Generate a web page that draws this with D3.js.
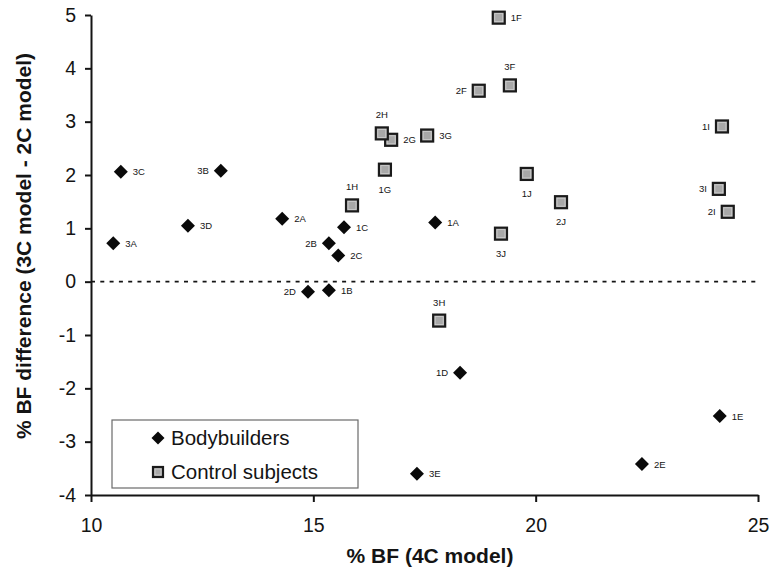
<!DOCTYPE html>
<html>
<head>
<meta charset="utf-8">
<script src="https://cdn.jsdelivr.net/npm/d3@7"></script>
<style>
  html, body { margin: 0; padding: 0; background: #fff; }
  svg { display: block; font-family: "Liberation Sans", Arial, Helvetica, sans-serif; }
</style>
</head>
<body>
<svg id="chart" width="771" height="572"></svg>
<script>
// ---- data ----
const xTicks = [10, 15, 20, 25];
const yTicks = [-4, -3, -2, -1, 0, 1, 2, 3, 4, 5];

const bbLabels = ["3A","3C","3B","3D","2A","1C","2B","2C","1A","2D","1B","1D","3E","2E","1E"];
const bbX = [10.50, 10.67, 12.92, 12.18, 14.30, 15.69, 15.35, 15.56, 17.74, 14.88, 15.35, 18.30, 17.33, 22.39, 24.14];
const bbY = [0.72, 2.06, 2.08, 1.05, 1.18, 1.02, 0.72, 0.49, 1.11, -0.19, -0.16, -1.71, -3.60, -3.42, -2.52];
const bbLabelSide = ["r","r","l","r","r","r","l","r","r","l","r","l","r","r","r"];

const ctLabels = ["1F","3F","2F","2G","2H","3G","1G","1H","3J","1J","2J","1I","3I","2I","3H"];
const ctX = [19.17, 19.42, 18.72, 16.75, 16.54, 17.56, 16.61, 15.87, 19.22, 19.80, 20.57, 24.19, 24.12, 24.32, 17.83];
const ctY = [4.95, 3.68, 3.58, 2.66, 2.78, 2.74, 2.10, 1.43, 0.90, 2.02, 1.49, 2.91, 1.74, 1.31, -0.73];
const ctLabelSide = ["r","t","l","r","t","r","b","t","b","b","b","l","l","l","t"];

const seriesNames = ["Bodybuilders", "Control subjects"];
const xTitle = "% BF (4C model)";
const yTitle = "% BF difference (3C model - 2C model)";

// ---- drawing ----
const svg = d3.select("#chart");
const x = d3.scaleLinear().domain([10, 25]).range([91, 758]);
const y = d3.scaleLinear().domain([-4, 5]).range([495, 15]);

const ink = "#141414";
const fmt = d => String(d);

// zero reference line
svg.append("line")
  .attr("x1", x(10)).attr("x2", x(25))
  .attr("y1", y(0)).attr("y2", y(0))
  .attr("stroke", ink).attr("stroke-width", 1.6)
  .attr("stroke-dasharray", "4,5.3");

// axes
const xAxis = svg.append("g")
  .attr("transform", `translate(0,${y(-4)})`)
  .call(d3.axisBottom(x).tickValues(xTicks).tickSize(7).tickSizeOuter(0).tickPadding(16).tickFormat(fmt));
const yAxis = svg.append("g")
  .attr("transform", `translate(${x(10)},0)`)
  .call(d3.axisLeft(y).tickValues(yTicks).tickSize(6).tickSizeOuter(0).tickPadding(9).tickFormat(fmt));

[xAxis, yAxis].forEach(g => {
  g.select(".domain").attr("stroke", ink).attr("stroke-width", 2);
  g.selectAll(".tick line").attr("stroke", ink).attr("stroke-width", 2);
  g.selectAll(".tick text").attr("fill", ink).style("font-size", "19.5px")
   .style("font-family", "'Liberation Sans', Arial, sans-serif");
});

// axis titles
svg.append("text")
  .attr("x", 430).attr("y", 563)
  .attr("text-anchor", "middle")
  .attr("font-weight", "bold").attr("font-size", 21).attr("fill", ink)
  .text(xTitle);
svg.append("text")
  .attr("transform", "translate(31,246) rotate(-90)")
  .attr("text-anchor", "middle")
  .attr("font-weight", "bold").attr("font-size", 21).attr("fill", ink)
  .text(yTitle);

// markers
const diamondPath = (r) => {
  const p = d3.path();
  p.moveTo(0, -r); p.lineTo(r, 0); p.lineTo(0, r); p.lineTo(-r, 0); p.closePath();
  return p.toString();
};
function drawSquare(g, s) {
  g.append("rect").attr("x", -s/2).attr("y", -s/2).attr("width", s).attr("height", s)
    .attr("fill", "#a8a8a8").attr("stroke", "#1a1a1a").attr("stroke-width", 2.2);
  g.append("rect").attr("x", -s/2 + 2).attr("y", -s/2 + 2).attr("width", s - 4).attr("height", s - 4)
    .attr("fill", "none").attr("stroke", "#cfcfcf").attr("stroke-width", 0.8);
}

function labelAttrs(sel, side) {
  if (side === "r") sel.attr("dx", 12).attr("dy", 3.5).attr("text-anchor", "start");
  else if (side === "l") sel.attr("dx", -12).attr("dy", 3.5).attr("text-anchor", "end");
  else if (side === "t") sel.attr("dx", 0).attr("dy", -15).attr("text-anchor", "middle");
  else sel.attr("dx", 0).attr("dy", 23).attr("text-anchor", "middle");
}

const bbData = bbLabels.map((l, i) => ({ label: l, x: bbX[i], y: bbY[i], side: bbLabelSide[i] }));
const ctData = ctLabels.map((l, i) => ({ label: l, x: ctX[i], y: ctY[i], side: ctLabelSide[i] }));

const bbG = svg.append("g").selectAll("g").data(bbData).join("g")
  .attr("transform", d => `translate(${x(d.x)},${y(d.y)})`);
bbG.append("path").attr("d", diamondPath(7)).attr("fill", "#0a0a0a");
bbG.append("text").text(d => d.label).attr("font-size", 9.5).attr("fill", ink)
  .each(function(d) { labelAttrs(d3.select(this), d.side); });

const ctG = svg.append("g").selectAll("g").data(ctData).join("g")
  .attr("transform", d => `translate(${x(d.x)},${y(d.y)})`);
ctG.each(function() { drawSquare(d3.select(this), 12); });
ctG.append("text").text(d => d.label).attr("font-size", 9.5).attr("fill", ink)
  .each(function(d) { labelAttrs(d3.select(this), d.side); });

// legend
const lg = svg.append("g");
lg.append("rect").attr("x", 112).attr("y", 420).attr("width", 246).attr("height", 68)
  .attr("fill", "#fff").attr("stroke", "#6a6a6a").attr("stroke-width", 1.2);
const l1 = lg.append("g").attr("transform", "translate(158,438)");
l1.append("path").attr("d", diamondPath(6.5)).attr("fill", "#0a0a0a");
const l2 = lg.append("g").attr("transform", "translate(158,472)");
drawSquare(l2, 10);
lg.append("text").attr("x", 171).attr("y", 445).attr("font-size", 20.5).attr("fill", ink).text(seriesNames[0]);
lg.append("text").attr("x", 171).attr("y", 479).attr("font-size", 20.5).attr("fill", ink).text(seriesNames[1]);
</script>
</body>
</html>
